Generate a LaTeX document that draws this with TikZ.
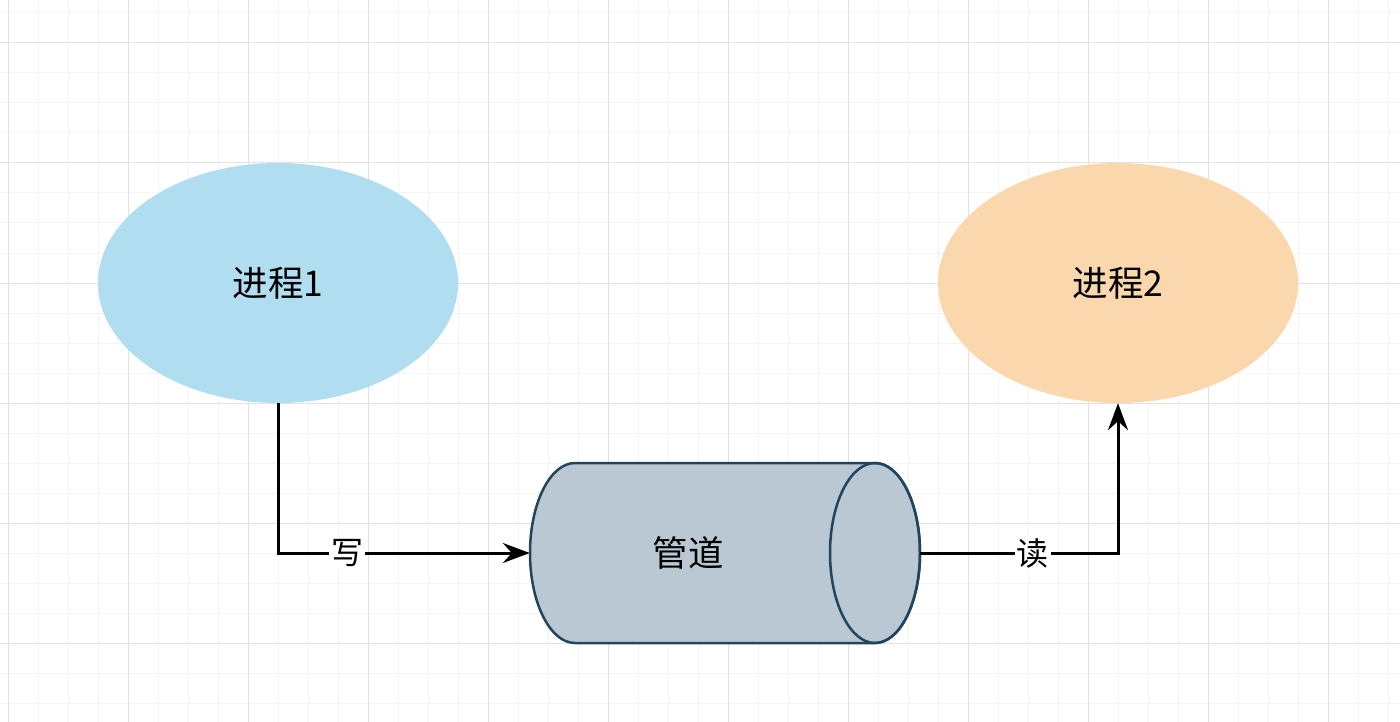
\documentclass[tikz,border=0pt]{standalone}
\usepackage{fontspec}
\newfontfamily\cjk{Noto Sans CJK SC}
\usetikzlibrary{shapes.geometric,arrows.meta}
\definecolor{procblue}{HTML}{B1DDF0}
\definecolor{procorange}{HTML}{FAD7AC}
\definecolor{pipefill}{HTML}{BAC8D3}
\definecolor{pipestroke}{HTML}{23445D}
\definecolor{gridminor}{HTML}{F4F4F4}
\definecolor{gridmajor}{HTML}{E2E2E2}
\tikzset{
  proc/.style={ellipse, draw=none, minimum width=360pt, minimum height=240pt, inner sep=0pt, font=\cjk\fontsize{35.5}{40}\selectfont},
  nodetext/.style={font=\cjk\fontsize{35.5}{40}\selectfont, inner sep=0pt},
  conn/.style={line width=3pt, -{Stealth[length=27pt,width=20pt,inset=9pt]}},
  lbl/.style={fill=white, inner sep=2pt, font=\cjk\fontsize{32}{36}\selectfont}
}
\begin{document}
\begin{tikzpicture}[x=1pt,y=-1pt]
\useasboundingbox (0,0) rectangle (1400,722);
\fill[white] (0,0) rectangle (1400,722);
% grid
\foreach \x in {8,38,...,1400} \draw[gridminor, line width=1pt] (\x,0) -- (\x,722);
\foreach \y in {13,43,...,722} \draw[gridminor, line width=1pt] (0,\y) -- (1400,\y);
\foreach \x in {8,128,...,1400} \draw[gridmajor, line width=1pt] (\x,0) -- (\x,722);
\foreach \y in {43,163,...,722} \draw[gridmajor, line width=1pt] (0,\y) -- (1400,\y);
% process nodes
\node[proc, fill=procblue] (p1) at (278,283) {进程1};
\node[proc, fill=procorange] (p2) at (1118,283) {进程2};
% pipe (horizontal cylinder)
\node[minimum width=390pt, minimum height=180pt, inner sep=0pt] (pipe) at (725,553) {};
\draw[pipestroke, fill=pipefill, line width=2.5pt]
  (575,463) -- (875,463) arc[start angle=-90, end angle=90, x radius=45, y radius=90]
  -- (575,643) arc[start angle=90, end angle=270, x radius=45, y radius=90] -- cycle;
\draw[pipestroke, line width=2.5pt] (875,553) ellipse[x radius=45, y radius=90];
\node[nodetext] (pipetext) at (688,553) {管道};
% connectors
\coordinate (c1) at (p1.south |- pipe.west);
\coordinate (c2) at (p2.south |- pipe.east);
\draw[conn] (p1.south) -- (c1) -- node[lbl, pos=0.275] {写} (pipe.west);
\draw[conn] (pipe.east) -- node[lbl, pos=0.57] {读} (c2) -- (p2.south);
\end{tikzpicture}
\end{document}
